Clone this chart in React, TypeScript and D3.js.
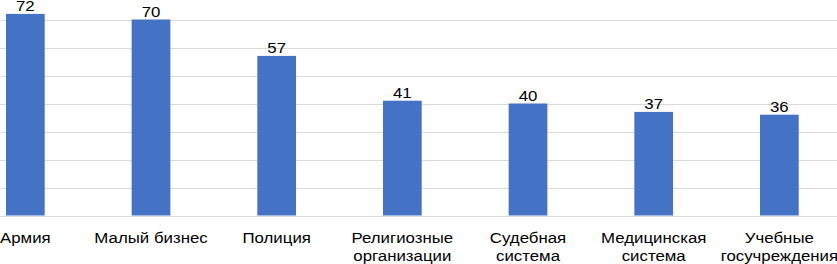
import React from "react";
import * as d3 from "d3";

const categories: string[][] = [
  ["Армия"],
  ["Малый бизнес"],
  ["Полиция"],
  ["Религиозные", "организации"],
  ["Судебная", "система"],
  ["Медицинская", "система"],
  ["Учебные", "госучреждения"],
];
const values: number[] = [72, 70, 57, 41, 40, 37, 36];
const gridTicks: number[] = [0, 10, 20, 30, 40, 50, 60, 70, 80];

const W = 837;
const H = 264;

export default function App() {
  const ids = categories.map((_, i) => String(i));
  const x = d3.scaleBand<string>().domain(ids).range([-37.5, 842.2]).paddingInner(0.692).paddingOuter(0.346);
  const y = d3.scaleLinear().domain([0, 80]).range([215.5, -8.5]);
  const font = "'Liberation Sans', Arial, sans-serif";
  const sx = 1.1;
  return (
    <svg width={W} height={H} style={{ position: "absolute", left: 0, top: 0 }}>
      <rect width={W} height={H} fill="#fff" />
      {gridTicks.map((t) => (
        <line key={t} x1={0} x2={W} y1={Math.round(y(t)) + 0.5} y2={Math.round(y(t)) + 0.5} stroke="#d9d9d9" strokeWidth={1} />
      ))}
      {values.map((v, i) => (
        <rect key={i} x={x(ids[i])!} y={y(v)} width={x.bandwidth()} height={y(0) - y(v)} fill="#4472C4" />
      ))}
      {values.map((v, i) => (
        <g key={i} transform={`translate(${x(ids[i])! + x.bandwidth() / 2},${y(v) - 3}) scale(${sx},1)`}>
          <text x={0} y={0} textAnchor="middle" fontFamily={font} fontSize={15.3} fill="#000">
            {v}
          </text>
        </g>
      ))}
      {categories.map((lines, i) => (
        <g key={i} transform={`translate(${x(ids[i])! + x.bandwidth() / 2},242.5) scale(${sx},1)`}>
          <text x={0} y={0} textAnchor="middle" fontFamily={font} fontSize={15.3} fill="#000">
            {lines.map((l, j) => (
              <tspan key={j} x={0} dy={j === 0 ? 0 : 19}>
                {l}
              </tspan>
            ))}
          </text>
        </g>
      ))}
    </svg>
  );
}
